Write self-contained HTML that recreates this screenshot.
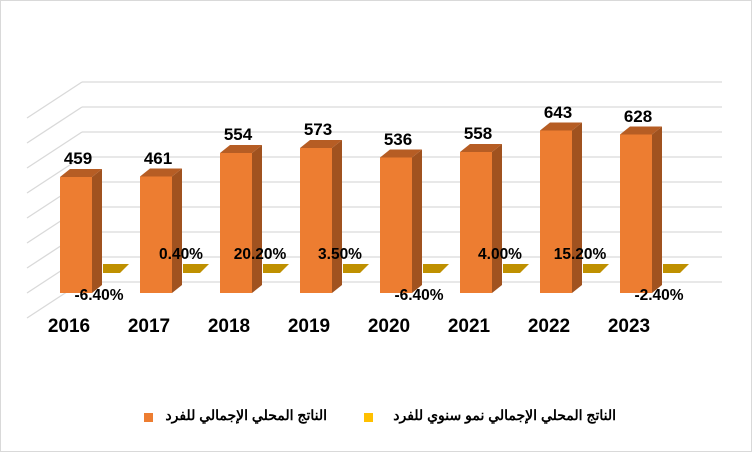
<!DOCTYPE html>
<html><head><meta charset="utf-8"><style>
body{margin:0;background:#fff;position:relative;width:752px;height:452px;overflow:hidden}
svg text{font-family:"Liberation Sans","Noto Sans CJK SC",sans-serif;font-weight:bold}
.lg{position:absolute;top:407px;font:bold 14px "Liberation Sans","Noto Sans CJK SC",sans-serif;white-space:nowrap;direction:rtl;color:#000}
</style></head><body>
<svg width="752" height="452" viewBox="0 0 752 452" xmlns="http://www.w3.org/2000/svg" style="position:absolute;left:0;top:0">
<rect x="0.5" y="0.5" width="751" height="451" fill="#fff" stroke="#d9d9d9"/>
<g stroke="#d9d9d9" stroke-width="1.3" fill="none">
<path d="M82 82H722M82 107H722M82 132H722M82 157H722M82 182H722M82 207H722M82 232H722M82 257H722M82 282H722"/>
<path d="M27 118L82 82M27 143L82 107M27 168L82 132M27 193L82 157M27 218L82 182M27 243L82 207M27 268L82 232M27 293L82 257M27 318L82 282"/>
</g>
<g fill="#bf9000">
<polygon points="103,264 129,264 120,273 103,273"/>
<polygon points="183,264 209,264 200,273 183,273"/>
<polygon points="263,264 289,264 280,273 263,273"/>
<polygon points="343,264 369,264 360,273 343,273"/>
<polygon points="423,264 449,264 440,273 423,273"/>
<polygon points="503,264 529,264 520,273 503,273"/>
<polygon points="583,264 609,264 600,273 583,273"/>
<polygon points="663,264 689,264 680,273 663,273"/>
</g>
<g fill="#ed7d31">
<rect x="60" y="177" width="32" height="116"/>
<rect x="140" y="176.5" width="32" height="116.5"/>
<rect x="220" y="153" width="32" height="140"/>
<rect x="300" y="148" width="32" height="145"/>
<rect x="380" y="157.5" width="32" height="135.5"/>
<rect x="460" y="152" width="32" height="141"/>
<rect x="540" y="130.5" width="32" height="162.5"/>
<rect x="620" y="134.5" width="32" height="158.5"/>
</g>
<g fill="#a0521f">
<polygon points="92,177 102,169 102,285 92,293"/>
<polygon points="172,176.5 182,168.5 182,285 172,293"/>
<polygon points="252,153 262,145 262,285 252,293"/>
<polygon points="332,148 342,140 342,285 332,293"/>
<polygon points="412,157.5 422,149.5 422,285 412,293"/>
<polygon points="492,152 502,144 502,285 492,293"/>
<polygon points="572,130.5 582,122.5 582,285 572,293"/>
<polygon points="652,134.5 662,126.5 662,285 652,293"/>
</g>
<g fill="#b65d24">
<polygon points="60,177 70,169 102,169 92,177"/>
<polygon points="140,176.5 150,168.5 182,168.5 172,176.5"/>
<polygon points="220,153 230,145 262,145 252,153"/>
<polygon points="300,148 310,140 342,140 332,148"/>
<polygon points="380,157.5 390,149.5 422,149.5 412,157.5"/>
<polygon points="460,152 470,144 502,144 492,152"/>
<polygon points="540,130.5 550,122.5 582,122.5 572,130.5"/>
<polygon points="620,134.5 630,126.5 662,126.5 652,134.5"/>
</g>
<g fill="#000" text-anchor="middle">
<g font-size="17">
<text x="78" y="164">459</text><text x="158" y="164">461</text><text x="238" y="140">554</text><text x="318" y="135">573</text>
<text x="398" y="145">536</text><text x="478" y="139">558</text><text x="558" y="118">643</text><text x="638" y="122">628</text>
</g>
<g font-size="15.5">
<text x="99" y="300">-6.40%</text><text x="181" y="259">0.40%</text><text x="260" y="259">20.20%</text><text x="340" y="259">3.50%</text>
<text x="419" y="300">-6.40%</text><text x="500" y="259">4.00%</text><text x="580" y="259">15.20%</text><text x="659" y="300">-2.40%</text>
</g>
<g font-size="19"><text x="69" y="332">2016</text><text x="149" y="332">2017</text><text x="229" y="332">2018</text><text x="309" y="332">2019</text><text x="389" y="332">2020</text><text x="469" y="332">2021</text><text x="549" y="332">2022</text><text x="629" y="332">2023</text></g>
</g>
<rect x="144" y="413" width="9" height="9" fill="#ed7d31"/>
<rect x="364" y="413" width="9" height="9" fill="#ffc000"/>
</svg>
<div class="lg" style="right:425px">الناتج المحلي الإجمالي للفرد</div>
<div class="lg" style="right:136px">الناتج المحلي الإجمالي نمو سنوي للفرد</div>
</body></html>
